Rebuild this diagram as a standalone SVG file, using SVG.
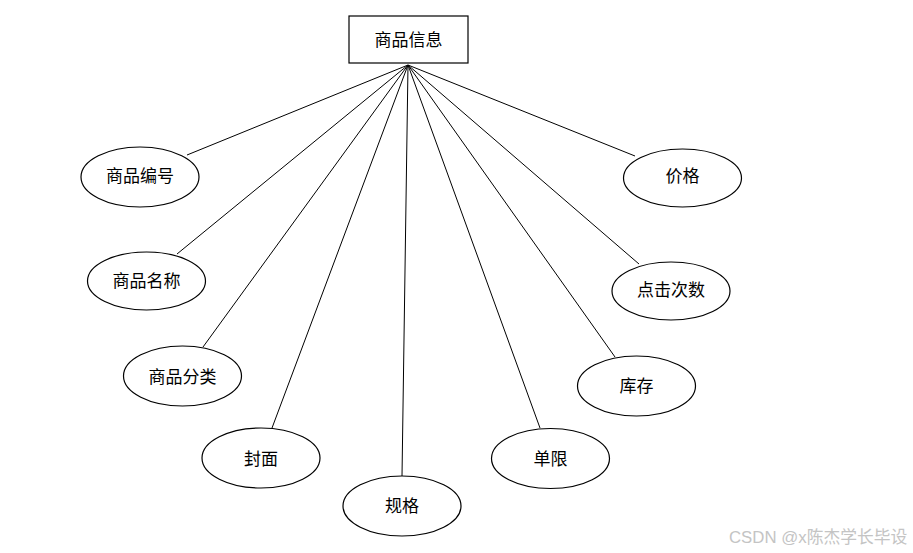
<svg xmlns="http://www.w3.org/2000/svg" width="913" height="553" viewBox="0 0 913 553">
<style>
.bg{fill:#ffffff}
.node rect,.node ellipse{fill:#ffffff;stroke:#000000;stroke-width:1.2}
.node text{font-family:"Liberation Serif","Noto Sans CJK SC",serif;font-size:17px;fill:#000000;text-anchor:middle;dominant-baseline:central}
#connectors line{stroke:#000000;stroke-width:1}
.wm{font-family:"Liberation Sans","Noto Sans CJK SC",sans-serif;font-size:16.8px;fill:#c4c4c4}
</style>
<rect class="bg" x="0" y="0" width="913" height="553"/>
<g id="connectors">
<line x1="408" y1="65" x2="187" y2="155"/>
<line x1="408" y1="65" x2="177" y2="254"/>
<line x1="408" y1="65" x2="203" y2="347"/>
<line x1="408" y1="65" x2="272" y2="428"/>
<line x1="408" y1="65" x2="402" y2="476"/>
<line x1="408" y1="65" x2="540" y2="428"/>
<line x1="408" y1="65" x2="615" y2="357"/>
<line x1="408" y1="65" x2="639" y2="264"/>
<line x1="408" y1="65" x2="635" y2="156"/>
</g>
<g id="n-main" class="node"><rect x="349" y="16" width="119" height="47"/><text x="408.5" y="40">商品信息</text></g>
<g id="n-bianhao" class="node"><ellipse cx="140" cy="177" rx="59" ry="30"/><text x="140" y="176">商品编号</text></g>
<g id="n-mingcheng" class="node"><ellipse cx="146.5" cy="281" rx="59" ry="29"/><text x="146.5" y="281">商品名称</text></g>
<g id="n-fenlei" class="node"><ellipse cx="182.5" cy="376" rx="59" ry="30"/><text x="182.5" y="377">商品分类</text></g>
<g id="n-fengmian" class="node"><ellipse cx="261" cy="458" rx="59" ry="30"/><text x="261" y="459">封面</text></g>
<g id="n-guige" class="node"><ellipse cx="402" cy="506" rx="59" ry="30"/><text x="402" y="506">规格</text></g>
<g id="n-danxian" class="node"><ellipse cx="550.5" cy="458.5" rx="59" ry="30"/><text x="550.5" y="459">单限</text></g>
<g id="n-kucun" class="node"><ellipse cx="636.5" cy="386" rx="59" ry="30"/><text x="636.5" y="386">库存</text></g>
<g id="n-dianji" class="node"><ellipse cx="671" cy="291" rx="59" ry="29"/><text x="671" y="290">点击次数</text></g>
<g id="n-jiage" class="node"><ellipse cx="682.5" cy="178" rx="59" ry="29"/><text x="682.5" y="176">价格</text></g>
<text class="wm" x="729" y="543">CSDN @x陈杰学长毕设</text>
</svg>
